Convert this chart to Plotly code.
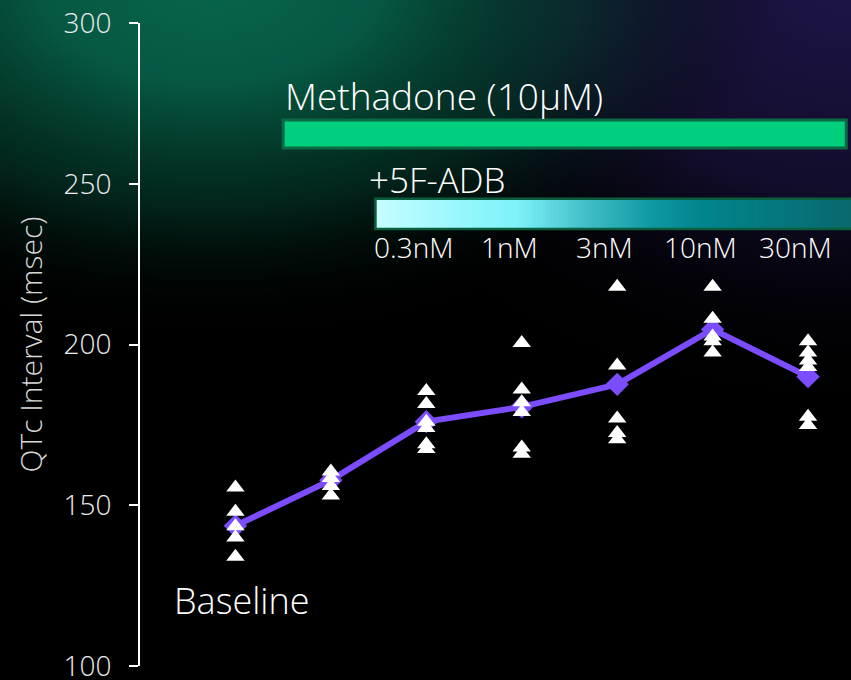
import base64
import numpy as np
import plotly.graph_objects as go

# ---------------- data ----------------
groups = ["Baseline", "Methadone", "0.3nM", "1nM", "3nM", "10nM", "30nM"]
baseline = [155.5, 148.0, 143.5, 140.0, 134.0]
methadone = [160.5, 158.5, 156.0, 153.0]
adb_03 = [185.5, 181.5, 176.0, 174.0, 169.0, 167.5]
adb_1 = [200.5, 186.0, 182.0, 179.0, 168.0, 166.0]
adb_3 = [218.0, 193.5, 177.0, 172.5, 170.5]
adb_10 = [218.0, 208.0, 202.5, 201.0, 197.5]
adb_30 = [201.0, 197.5, 195.0, 193.0, 177.5, 175.0]
group_means = [143.6, 157.8, 176.0, 180.6, 187.6, 204.7, 190.0]
conc_labels = ["0.3nM", "1nM", "3nM", "10nM", "30nM"]
y_ticks = [100, 150, 200, 250, 300]

series = [baseline, methadone, adb_03, adb_1, adb_3, adb_10, adb_30]

# ---------------- figure ----------------
FONT = "Open Sans"
fig = go.Figure()

svg = """<svg xmlns='http://www.w3.org/2000/svg' width='851' height='680' viewBox='0 0 851 680' preserveAspectRatio='none'>
<defs>
<radialGradient id='g' cx='210' cy='-20' r='520' gradientUnits='userSpaceOnUse' gradientTransform='translate(210 -20) scale(1.1 0.68) translate(-210 20)'>
<stop offset='0' stop-color='#08664c'/>
<stop offset='0.3' stop-color='#065c46' stop-opacity='0.95'/>
<stop offset='0.65' stop-color='#04402f' stop-opacity='0.55'/>
<stop offset='1' stop-color='#000000' stop-opacity='0'/>
</radialGradient>
<radialGradient id='p' cx='851' cy='-20' r='560' gradientUnits='userSpaceOnUse' gradientTransform='translate(851 -20) scale(1 0.75) translate(-851 20)'>
<stop offset='0' stop-color='#1e1548'/>
<stop offset='0.5' stop-color='#150f33' stop-opacity='0.85'/>
<stop offset='1' stop-color='#000000' stop-opacity='0'/>
</radialGradient>
</defs>
<rect width='851' height='680' fill='#000'/>
<rect width='851' height='680' fill='url(#p)'/>
<rect width='851' height='680' fill='url(#g)'/>
</svg>"""
svg_uri = "data:image/svg+xml;base64," + base64.b64encode(svg.encode()).decode()

W, H = 851, 680
ML, MR, MT, MB = 140, 0, 23, 14
pw, ph = W - ML - MR, H - MT - MB
fig.add_layout_image(
    source=svg_uri, xref="paper", yref="paper",
    x=-ML / pw, y=1 + MT / ph, sizex=W / pw, sizey=H / ph,
    xanchor="left", yanchor="top", sizing="stretch", layer="below",
)

# 5F-ADB gradient bar (heatmap)
adb_x0, adb_x1 = 1.467, 6.7
n = 120
fig.add_trace(go.Heatmap(
    z=[list(np.linspace(0, 1, n))],
    x=list(np.linspace(adb_x0, adb_x1, n + 1)),
    y=[235.9, 245.3],
    colorscale=[[0, "#c6fdff"], [0.2, "#8ff6fc"], [0.28, "#7ef2fa"],
                [0.42, "#42bfc8"], [0.55, "#109aa4"], [0.65, "#02858e"],
                [1, "#0a6569"]],
    showscale=False, hoverinfo="skip",
))
fig.add_shape(type="rect", x0=adb_x0, x1=adb_x1, y0=235.9, y1=245.3,
              line=dict(color="#0b5e3e", width=2.5), fillcolor="rgba(0,0,0,0)")

# Methadone bar
fig.add_shape(type="rect", x0=0.5, x1=6.4, y0=261.1, y1=269.8,
              line=dict(color="#0b6a45", width=3), fillcolor="#00cf7e")

# mean line
fig.add_trace(go.Scatter(
    x=list(range(len(groups))), y=group_means, mode="lines+markers",
    line=dict(color="#7b4dff", width=6),
    marker=dict(symbol="diamond", size=18, color="#7b4dff"),
    hoverinfo="skip", showlegend=False,
))

# individual points
for i, vals in enumerate(series):
    fig.add_trace(go.Scatter(
        x=[i] * len(vals), y=vals, mode="markers",
        marker=dict(symbol="triangle-up", size=16, color="white"),
        showlegend=False, name=groups[i],
    ))

# text annotations
fig.add_annotation(x=0.5, y=277.3, text="Methadone (10μM)", showarrow=False,
                   xanchor="left", yanchor="middle",
                   font=dict(family=FONT, size=37, color="white", weight=300))
fig.add_annotation(x=1.383, y=251.3, text="+5F-ADB", showarrow=False,
                   xanchor="left", yanchor="middle",
                   font=dict(family=FONT, size=35, color="white", weight=300))
for k, lab in enumerate(conc_labels):
    fig.add_annotation(x=k + 2 - 0.13, y=230.3, text=lab, showarrow=False,
                       xanchor="center", yanchor="middle",
                       font=dict(family=FONT, size=28, color="white", weight=300))
fig.add_annotation(x=0.07, y=120.5, text="Baseline", showarrow=False,
                   xanchor="center", yanchor="middle",
                   font=dict(family=FONT, size=36, color="white", weight=300))

fig.update_layout(
    width=W, height=H,
    margin=dict(l=ML, r=MR, t=MT, b=MB, pad=0, autoexpand=False),
    paper_bgcolor="#000000", plot_bgcolor="rgba(0,0,0,0)",
    showlegend=False,
    xaxis=dict(range=[-1, 6.45], visible=False, fixedrange=True, automargin=False),
    yaxis=dict(
        range=[100, 300], tickvals=y_ticks, showgrid=False, zeroline=False,
        automargin=False,
        showline=True, linecolor="white", linewidth=2,
        ticks="outside", ticklen=9, tickwidth=2, tickcolor="white",
        ticklabelstandoff=12, ticklabeloverflow="allow",
        tickfont=dict(family=FONT, size=28, color="#ececec", weight=300),
        title=dict(text="QTc Interval (msec)", standoff=12,
                   font=dict(family=FONT, size=30, color="#d8d8d8", weight=300)),
        fixedrange=True,
    ),
)

fig.write_html(
    "out.html",
    config={"displayModeBar": False},
    post_script="document.body.style.margin='0';document.body.style.overflow='hidden';",
)
